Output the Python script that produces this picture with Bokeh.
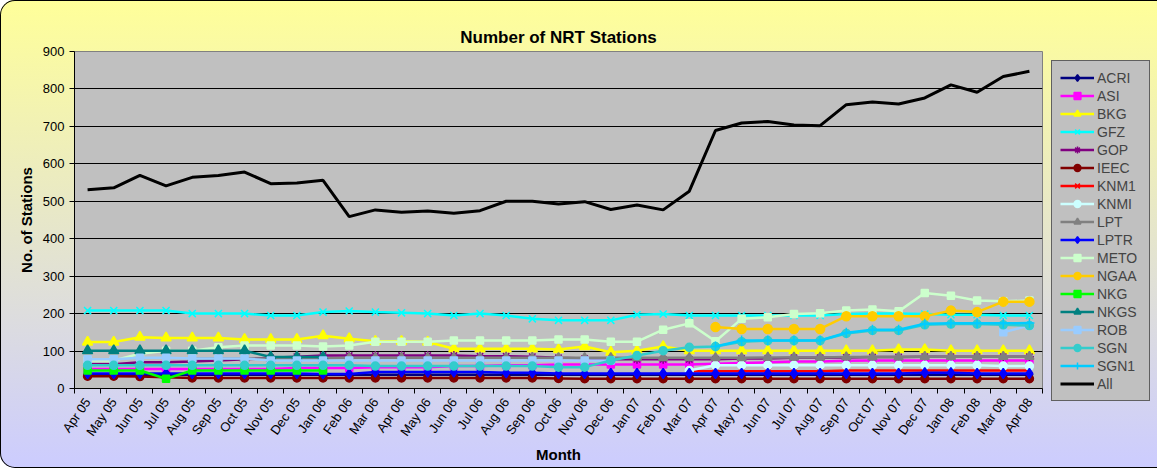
import numpy as np
from bokeh.plotting import figure
from bokeh.models import Legend, LegendItem, Range1d, FixedTicker, ColumnDataSource
from bokeh.embed import file_html
from bokeh.resources import INLINE

N = float("nan")

months = ["Apr 05", "May 05", "Jun 05", "Jul 05", "Aug 05", "Sep 05", "Oct 05", "Nov 05",
          "Dec 05", "Jan 06", "Feb 06", "Mar 06", "Apr 06", "May 06", "Jun 06", "Jul 06",
          "Aug 06", "Sep 06", "Oct 06", "Nov 06", "Dec 06", "Jan 07", "Feb 07", "Mar 07",
          "Apr 07", "May 07", "Jun 07", "Jul 07", "Aug 07", "Sep 07", "Oct 07", "Nov 07",
          "Dec 07", "Jan 08", "Feb 08", "Mar 08", "Apr 08"]

ACRI = [37, 37, 37, 37, 37, 37, 37, 37, 37, 37, 37, 37, 37, 37, 37, 37, 37, 37, 37,
        37, 37, 37, 37, 37, 37, 37, 37, 37, 37, 37, 37, 37, 37, 37, 37, 37, 37]
ASI = [52, 52, 52, 52, 52, 52, 52, 52, 55, 55, 55, 57, 57, 57, 60, 60, 62, 62, 64,
       64, 64, 64, 64, 64, 66, 68, 70, 72, 72, 74, 75, 75, 75, 75, 75, 75, 75]
BKG = [124, 124, 137, 135, 135, 135, 131, 131, 131, 141, 133, 126, 126, 124, 106, 106, 106, 106, 104,
       112, 97, 101, 112, 101, 101, 101, 101, 101, 101, 101, 101, 104, 104, 101, 101, 101, 101]
GFZ = [208, 208, 208, 208, 200, 200, 200, 195, 195, 204, 207, 204, 202, 200, 195, 200, 195, 186, 182,
       182, 182, 197, 199, 195, 195, 195, 195, 195, 195, 199, 200, 200, 199, 197, 197, 195, 195]
GOP = [65, 65, 70, 70, 72, 75, 78, 82, 85, 88, 88, 88, 88, 88, 88, 86, 86, 85, 82,
       80, 78, 78, 78, 78, 78, 80, 80, 82, 82, 83, 84, 84, 85, 85, 85, 85, 85]
IEEC = [33, 33, 32, 30, 28, 28, 28, 28, 28, 28, 28, 28, 28, 28, 28, 28, 28, 28, 27,
        26, 26, 26, 26, 26, 26, 26, 26, 26, 26, 26, 26, 26, 26, 26, 26, 26, 26]
KNM1 = [N, N, N, N, N, N, N, N, N, N, N, N, N, N, N, N, N, N, N,
        N, N, N, N, 46, 46, 46, 46, 46, 46, 48, 48, 48, 48, 48, 48, 48, 48]
KNMI = [N, N, N, N, N, N, N, N, N, N, N, N, N, N, N, N, N, N, N,
        N, N, N, N, 48, 62, 62, 62, 62, 62, 62, 62, 62, 62, 62, 62, 60, 60]
LPT = [N, N, N, N, 80, 80, 80, 80, 80, 80, 82, 82, 82, 82, 82, 82, 82, 82, 82,
       82, 82, 82, 82, 82, 82, 82, 83, 83, 83, 84, 84, 84, 85, 85, 85, 85, 85]
LPTR = [40, 40, 40, 40, 40, 40, 40, 40, 40, 39, 39, 44, 44, 44, 44, 44, 42, 42, 40,
        40, 40, 40, 40, 40, 40, 40, 40, 40, 40, 40, 40, 40, 42, 42, 40, 40, 40]
METO = [75, 75, 93, 101, 101, 110, 115, 115, 115, 112, 115, 125, 125, 125, 128, 128, 128, 128, 131,
        131, 125, 125, 157, 174, 126, 186, 190, 199, 201, 208, 211, 206, 255, 248, 235, 233, 235]
NGAA = [N, N, N, N, N, N, N, N, N, N, N, N, N, N, N, N, N, N, N,
        N, N, N, N, N, 164, 159, 159, 159, 159, 193, 193, 193, 193, 208, 204, 232, 232]
NKG = [48, 48, 48, 26, 48, 48, 48, 48, 48, 48, N, N, N, N, N, N, N, N, N,
       N, N, N, N, N, N, N, N, N, N, N, N, N, N, N, N, N, N]
NKGS = [101, 101, 101, 101, 101, 101, 101, 84, 84, 84, N, N, N, N, N, N, N, N, N,
        N, N, N, N, N, N, N, N, N, N, N, N, N, N, N, N, N, N]
ROB = [78, 78, 82, 82, 80, 80, 80, 75, 75, 75, 75, 75, 75, 75, 75, 75, 75, 75, 75,
       75, 75, N, N, N, N, N, N, N, N, N, N, N, N, N, N, 150, 168]
SGN = [62, 62, 62, 62, 62, 62, 62, 62, 62, 62, 62, 60, 60, 60, 60, 60, 60, 60, 57,
       57, 75, 88, 101, 110, 112, 125, 128, 128, 128, 147, 155, 155, 170, 172, 172, 170, 168]
SGN1 = [N, N, N, N, N, N, N, N, N, N, N, N, N, N, N, N, N, N, N,
        N, N, N, N, N, 112, 128, 128, 128, 128, 149, 157, 157, 173, 174, 174, 174, 175]
ALL = [531, 536, 569, 541, 564, 569, 578, 547, 549, 556, 459, 477, 471, 474, 468, 475, 500, 500, 493,
       499, 478, 490, 477, 527, 689, 709, 713, 704, 702, 758, 765, 760, 776, 811, 791, 833, 847]

series = [
    ("ACRI", ACRI, "#000080", "diamond", 10),
    ("ASI", ASI, "#FF00FF", "square", 7),
    ("BKG", BKG, "#FFFF00", "triangle", 10),
    ("GFZ", GFZ, "#00FFFF", "x", 10),
    ("GOP", GOP, "#800080", "asterisk", 9),
    ("IEEC", IEEC, "#800000", "circle", 8),
    ("KNM1", KNM1, "#FF0000", "x", 9),
    ("KNMI", KNMI, "#CCFFFF", "circle", 8),
    ("LPT", LPT, "#808080", "triangle", 9),
    ("LPTR", LPTR, "#0000FF", "diamond", 10),
    ("METO", METO, "#CCFFCC", "square", 7),
    ("NGAA", NGAA, "#FFCC00", "circle", 9),
    ("NKG", NKG, "#00FF00", "square", 7),
    ("NKGS", NKGS, "#008080", "triangle", 10),
    ("ROB", ROB, "#99CCFF", "square", 7),
    ("SGN", SGN, "#33CCCC", "circle", 8),
    ("SGN1", SGN1, "#00CCFF", "cross", 10),
]

FONT = "Liberation Sans"

p = figure(frame_width=968, frame_height=337, output_backend="svg", toolbar_location=None,
           x_range=Range1d(-0.5, len(months) - 0.5), y_range=Range1d(0, 900),
           min_border_left=74, min_border_top=51, min_border_bottom=80, min_border_right=0,
           background_fill_color="#C0C0C0", border_fill_color=None,
           outline_line_color="#808080",
           title="Number of NRT Stations",
           styles={"background": "linear-gradient(to bottom, #FFFF99 0%, #CCCCFF 100%)",
                   "border-radius": "15px",
                   "box-shadow": "inset 0 0 0 1px #000000"})

p.title.align = "center"
p.title.text_font = FONT
p.title.text_font_size = "17px"
p.title.text_font_style = "bold"
p.title.text_color = "#000000"
p.title.offset = 27

xs = list(range(len(months)))
items = []
for name, vals, color, marker, size in series:
    src = ColumnDataSource(dict(x=xs, y=np.array(vals, dtype=float)))
    r1 = p.line("x", "y", source=src, line_color=color, line_width=2.5)
    r2 = p.scatter("x", "y", source=src, marker=marker, size=size,
                   fill_color=color, line_color=color, line_width=1.5)
    items.append(LegendItem(label=name, renderers=[r1, r2]))

src_all = ColumnDataSource(dict(x=xs, y=np.array(ALL, dtype=float)))
ra = p.line("x", "y", source=src_all, line_color="#000000", line_width=3)
items.append(LegendItem(label="All", renderers=[ra]))

p.xaxis.ticker = FixedTicker(ticks=xs, minor_ticks=[i - 0.5 for i in range(len(months) + 1)])
p.xaxis.major_label_overrides = {i: m for i, m in enumerate(months)}
p.xaxis.major_label_orientation = 0.96
p.xaxis.major_tick_line_color = None
p.xaxis.minor_tick_line_color = "#000000"
p.xaxis.minor_tick_in = 0
p.xaxis.minor_tick_out = 5
p.xaxis.axis_label = "Month"
p.xaxis.axis_label_standoff = 0

p.yaxis.ticker = FixedTicker(ticks=[0, 100, 200, 300, 400, 500, 600, 700, 800, 900])
p.yaxis.minor_tick_line_color = None
p.yaxis.major_tick_in = 0
p.yaxis.major_tick_out = 5
p.yaxis.axis_label = "No. of Stations"

for ax in (p.xaxis, p.yaxis):
    ax.axis_line_color = "#000000"
    ax.major_label_text_font = FONT
    ax.major_label_text_font_size = "13px"
    ax.major_label_text_color = "#000000"
    ax.axis_label_text_font = FONT
    ax.axis_label_text_font_size = "15px"
    ax.axis_label_text_font_style = "bold"
    ax.axis_label_text_color = "#000000"

p.xgrid.grid_line_color = None
p.ygrid.grid_line_color = "#000000"
p.ygrid.grid_line_width = 1

legend = Legend(items=items, location="top_left",
                background_fill_color="#C0C0C0", background_fill_alpha=1,
                border_line_color="#000000", border_line_width=1,
                label_text_font=FONT, label_text_font_size="14px",
                glyph_width=34, glyph_height=17, label_height=17, label_width=44,
                spacing=1, padding=8, margin=9, label_standoff=3)
p.add_layout(legend, "right")

open("out.html", "w").write(file_html(p, INLINE))
